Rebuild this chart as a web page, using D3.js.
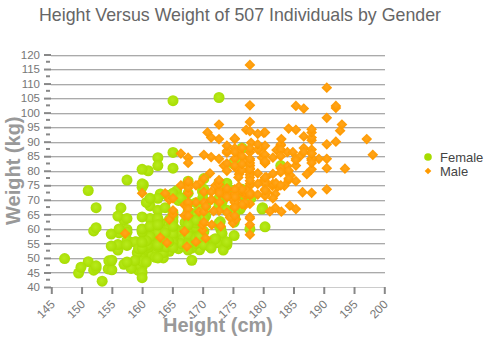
<!DOCTYPE html>
<html><head><meta charset="utf-8">
<script src="https://cdn.jsdelivr.net/npm/d3@7/dist/d3.min.js"></script>
<style>body{margin:0;background:#fff}svg{display:block;font-family:"Liberation Sans",Arial,sans-serif}</style>
</head><body><svg id="c" width="486" height="340"></svg>
<script>
const title = "Height Versus Weight of 507 Individuals by Gender";
const seriesNames = ["Female", "Male"];
const xTicks = [145,150,155,160,165,170,175,180,185,190,195,200];
const yTicks = [40,45,50,55,60,65,70,75,80,85,90,95,100,105,110,115,120];
const female = [[161.2,51.6],[167.5,59.0],[159.5,49.2],[157.0,63.0],[155.8,53.6],[170.0,59.0],[159.1,47.6],[166.0,69.8],[176.2,66.8],[160.2,75.2],[172.5,55.2],[170.9,54.2],[172.9,62.5],[153.4,42.0],[160.0,50.0],[147.2,49.8],[168.2,49.2],[175.0,73.2],[157.0,47.8],[167.6,68.8],[159.5,50.6],[175.0,82.5],[166.8,57.2],[176.5,87.8],[170.2,72.8],[174.0,54.5],[173.0,59.8],[179.9,67.3],[170.5,67.8],[160.0,47.0],[154.4,46.2],[162.0,55.0],[176.5,83.0],[160.0,54.4],[152.0,45.8],[162.1,53.6],[170.0,73.2],[160.2,52.1],[161.3,67.9],[166.4,56.6],[168.9,62.3],[163.8,58.5],[167.6,54.5],[160.0,50.2],[161.3,60.3],[167.6,58.3],[165.1,56.2],[160.0,50.2],[170.0,72.9],[157.5,59.8],[167.6,61.0],[160.7,69.1],[163.2,55.9],[152.4,46.5],[157.5,54.3],[168.3,54.8],[180.3,60.7],[165.5,60.0],[165.0,62.0],[164.5,60.3],[156.0,52.7],[160.0,74.3],[163.0,62.0],[165.7,73.1],[161.0,80.0],[162.0,54.7],[166.0,53.2],[174.0,75.7],[172.7,61.1],[167.6,55.7],[151.1,48.7],[164.5,52.3],[163.5,50.0],[152.0,59.3],[169.0,62.5],[164.0,55.7],[161.2,54.8],[155.0,45.9],[170.0,70.6],[176.2,67.2],[170.0,69.4],[162.5,58.2],[170.3,64.8],[164.1,71.6],[169.5,52.8],[163.2,59.8],[154.5,49.0],[159.8,50.0],[173.2,69.2],[170.0,55.9],[161.4,63.4],[169.0,58.2],[166.2,58.6],[159.4,45.7],[162.5,52.2],[159.0,48.6],[162.8,57.8],[159.0,55.6],[179.8,66.8],[162.9,59.4],[161.0,53.6],[151.1,73.2],[168.2,53.4],[168.9,69.0],[173.2,58.4],[171.8,56.2],[178.0,70.6],[164.3,59.8],[163.0,72.0],[168.5,65.2],[166.8,56.6],[172.7,105.2],[163.5,51.8],[169.4,63.4],[167.8,59.0],[159.5,47.6],[167.6,63.0],[161.2,55.2],[160.0,45.0],[163.2,54.0],[162.2,50.2],[161.3,60.2],[149.5,44.8],[157.5,58.8],[163.2,56.4],[172.7,62.0],[155.0,49.2],[156.5,67.2],[164.0,53.8],[160.9,54.4],[162.8,58.0],[167.0,59.8],[160.0,54.8],[160.0,43.2],[168.9,60.5],[158.2,46.4],[156.0,64.4],[160.0,48.8],[167.1,62.2],[158.0,55.5],[167.6,57.8],[156.0,54.6],[162.1,59.2],[173.4,52.7],[159.8,53.2],[170.5,64.5],[159.2,51.8],[157.5,56.0],[161.3,63.6],[162.6,63.2],[160.0,59.5],[168.9,56.8],[165.1,64.1],[162.6,50.0],[165.1,72.3],[166.4,55.0],[160.0,55.9],[152.4,60.4],[170.2,69.1],[162.6,84.5],[170.2,55.9],[158.8,55.5],[172.7,69.5],[167.6,76.4],[162.6,61.4],[167.6,65.9],[156.2,58.6],[175.2,66.8],[172.1,56.6],[162.6,58.6],[160.0,55.9],[165.1,59.1],[182.9,81.8],[166.4,70.7],[165.1,56.8],[177.8,60.0],[165.1,58.2],[175.3,72.7],[154.9,54.1],[158.8,49.1],[172.7,75.9],[168.9,55.0],[161.3,57.3],[167.6,55.0],[165.1,65.5],[175.3,65.5],[157.5,48.6],[163.8,58.6],[167.6,63.6],[165.1,55.2],[165.1,62.7],[168.9,56.6],[162.6,53.9],[164.5,63.2],[176.5,73.6],[168.9,62.0],[175.3,63.6],[159.4,53.2],[160.0,53.4],[170.2,55.0],[162.6,70.5],[167.6,54.5],[162.6,54.5],[160.7,55.9],[160.0,59.0],[157.5,63.6],[162.6,54.5],[152.4,47.3],[170.2,67.7],[165.1,80.9],[172.7,70.5],[165.1,60.9],[170.2,63.6],[170.2,54.5],[170.2,59.1],[161.3,70.5],[167.6,52.7],[167.6,62.7],[165.1,86.3],[162.6,66.4],[152.4,67.3],[168.9,63.0],[170.2,73.6],[175.2,62.3],[175.2,57.7],[160.0,55.4],[165.1,104.1],[174.0,55.5],[170.2,77.3],[160.0,80.5],[167.6,64.5],[167.6,72.3],[167.6,61.4],[154.9,58.2],[162.6,81.8],[175.3,63.6],[171.4,53.4],[157.5,54.5],[165.1,53.6],[160.0,60.0],[174.0,73.6],[162.6,61.4],[174.0,55.5],[162.6,63.6],[161.3,60.9],[156.2,60.0],[149.9,46.8],[169.5,57.3],[160.0,64.1],[175.3,63.6],[169.5,67.3],[160.0,75.5],[172.7,68.2],[162.6,61.4],[157.5,76.8],[176.5,71.8],[164.4,55.5],[160.7,48.6],[174.0,66.4],[163.8,67.3]];
const male = [[174.0,65.6],[175.3,71.8],[193.5,80.7],[186.5,72.6],[187.2,78.8],[181.5,74.8],[184.0,86.4],[184.5,78.4],[175.0,62.0],[184.0,81.6],[180.0,76.6],[177.8,83.6],[192.0,90.0],[176.0,74.6],[174.0,71.0],[184.0,79.6],[192.7,93.8],[171.5,70.0],[173.0,72.4],[176.0,85.9],[176.0,78.8],[180.5,77.8],[172.7,66.2],[176.0,86.4],[173.5,81.8],[178.0,89.6],[180.3,82.8],[180.3,76.4],[164.5,63.2],[173.0,60.9],[183.5,74.8],[175.5,70.0],[188.0,72.4],[189.2,84.1],[172.8,69.1],[170.0,59.5],[182.0,67.2],[170.0,61.3],[177.8,68.6],[184.2,80.1],[186.7,87.8],[171.4,84.7],[172.7,73.4],[175.3,72.1],[180.3,82.6],[182.9,88.7],[188.0,84.1],[177.2,94.1],[172.1,74.9],[167.0,59.1],[169.5,75.6],[174.0,86.2],[172.7,75.3],[182.2,87.1],[164.1,55.2],[163.0,57.0],[171.5,61.4],[184.2,76.8],[174.0,86.8],[174.0,72.2],[177.0,71.6],[186.0,84.8],[167.0,68.2],[171.8,66.1],[182.0,72.0],[167.0,64.6],[177.8,74.8],[164.5,70.0],[192.0,101.6],[175.5,63.2],[171.2,79.1],[181.6,78.9],[167.4,67.7],[181.1,66.0],[177.0,68.2],[174.5,63.9],[177.5,72.0],[170.5,56.8],[182.4,74.5],[197.1,90.9],[180.1,93.0],[175.5,80.9],[180.6,72.7],[184.4,68.0],[175.5,70.9],[180.6,72.5],[177.0,72.5],[177.1,83.4],[181.6,75.5],[176.5,73.0],[175.0,70.2],[174.0,73.4],[165.1,70.5],[177.0,68.9],[192.0,102.3],[176.5,68.4],[169.4,65.9],[182.1,75.7],[179.8,84.5],[175.3,87.7],[184.9,86.4],[177.3,73.2],[167.4,53.9],[178.1,72.0],[168.9,55.5],[157.2,58.4],[180.3,83.2],[170.2,72.7],[177.8,64.1],[172.7,72.3],[165.1,65.0],[186.7,86.4],[165.1,65.0],[174.0,88.6],[175.3,84.1],[185.4,66.8],[177.8,75.5],[180.3,93.2],[180.3,82.7],[177.8,58.0],[177.8,79.5],[177.8,78.6],[177.8,71.8],[177.8,116.4],[163.8,72.2],[188.0,83.6],[198.1,85.5],[175.3,90.9],[166.4,85.9],[190.5,89.1],[166.4,75.0],[177.8,77.7],[179.7,86.4],[172.7,90.9],[190.5,73.6],[185.4,76.4],[168.9,69.1],[167.6,84.5],[175.3,64.5],[170.2,69.1],[190.5,108.6],[177.8,86.4],[190.5,80.9],[177.8,87.7],[184.2,94.5],[176.5,80.2],[177.8,72.0],[180.3,71.4],[171.4,72.7],[172.7,84.1],[172.7,76.8],[177.8,63.6],[177.8,80.9],[182.9,80.9],[170.2,85.5],[167.6,68.6],[175.3,67.7],[165.1,66.4],[185.4,102.3],[181.6,70.5],[172.7,95.9],[190.5,84.1],[179.1,87.3],[175.3,71.8],[170.2,65.9],[193.0,95.9],[171.4,91.4],[177.8,81.8],[177.8,96.8],[167.6,69.1],[167.6,82.7],[180.3,75.5],[182.9,79.5],[176.5,73.6],[186.7,91.8],[188.0,84.1],[188.0,85.9],[177.8,81.8],[174.0,82.5],[177.8,80.5],[171.4,70.0],[185.4,81.8],[185.4,84.1],[188.0,90.5],[188.0,91.4],[182.9,89.1],[176.5,85.0],[175.3,69.1],[175.3,73.6],[188.0,80.5],[188.0,82.7],[175.3,86.4],[170.5,67.7],[179.1,92.7],[177.8,93.6],[175.3,70.9],[182.9,75.0],[170.8,93.2],[188.0,93.2],[180.3,77.7],[177.8,61.4],[185.4,94.1],[168.9,75.0],[185.4,83.6],[180.3,85.5],[174.0,73.9],[167.6,66.8],[182.9,87.3],[160.0,72.3],[180.3,88.6],[167.6,75.5],[186.7,101.4],[175.3,91.1],[175.3,67.3],[175.9,77.7],[175.3,81.8],[179.1,75.5],[181.6,84.5],[177.8,76.6],[182.9,85.0],[177.8,102.5],[184.2,77.3],[179.1,71.8],[176.5,87.9],[188.0,94.3],[174.0,70.9],[167.6,64.5],[170.2,77.3],[167.6,72.3],[188.0,87.3],[174.0,80.0],[176.5,82.3],[180.3,73.6],[167.6,74.1],[188.0,85.9],[180.3,73.2],[167.6,76.3],[183.0,65.9],[183.0,90.9],[179.1,89.1],[170.2,62.3],[177.8,82.7],[179.1,79.1],[190.5,98.2],[177.8,84.1],[180.3,83.2],[180.3,83.2]];

const svg = d3.select("#c");
const x = d3.scaleLinear().domain([145, 200]).range([51.3, 384.3]);
const y = d3.scaleLinear().domain([40, 120]).range([287, 54.5]);

const defs = svg.append("defs");
const gF = defs.append("radialGradient").attr("id","gF").attr("cx","45%").attr("cy","45%").attr("r","60%");
gF.append("stop").attr("offset","0%").attr("stop-color","#b8ea1c");
gF.append("stop").attr("offset","100%").attr("stop-color","#a6dc00");
const gM = defs.append("radialGradient").attr("id","gM").attr("cx","45%").attr("cy","45%").attr("r","60%");
gM.append("stop").attr("offset","0%").attr("stop-color","#ffa51c");
gM.append("stop").attr("offset","100%").attr("stop-color","#ff9a00");

// title
svg.append("text").attr("x", 240).attr("y", 21).attr("text-anchor","middle")
  .attr("font-size", 17.8).attr("fill","#666").text(title);

// gridlines
const grid = svg.append("g");
yTicks.forEach(t => {
  if (t === 40) return;
  grid.append("line").attr("x1", 51).attr("x2", 385).attr("y1", Math.round(y(t))+0.5).attr("y2", Math.round(y(t))+0.5).attr("stroke","#aaa");
  grid.append("line").attr("x1", 51).attr("x2", 385).attr("y1", Math.round(y(t))+1.5).attr("y2", Math.round(y(t))+1.5).attr("stroke","#e2e2e2");
});
// x axis baseline
svg.append("line").attr("x1", 51).attr("x2", 385).attr("y1", Math.round(y(40))+0.5).attr("y2", Math.round(y(40))+0.5).attr("stroke","#ccc");

// y axis ticks
const yAxis = d3.axisLeft(y).tickValues(yTicks).tickSize(7).tickPadding(4);
const yg = svg.append("g").attr("transform","translate(51,0)").call(yAxis);
yg.select(".domain").remove();
yg.selectAll(".tick line").attr("stroke","#888").attr("stroke-width",2);
yg.selectAll(".tick text").attr("fill","#777").attr("font-size",11.5).attr("font-family","Liberation Sans, Arial, sans-serif");
// minor ticks
const minor = d3.range(42.5, 120, 5);
svg.append("g").selectAll("line").data(minor).join("line")
  .attr("x1", 46).attr("x2", 50).attr("y1", d => y(d)).attr("y2", d => y(d))
  .attr("stroke","#888").attr("stroke-width",2);

// x axis
const xAxis = d3.axisBottom(x).tickValues(xTicks).tickSize(7).tickFormat(d3.format("d"));
const xg = svg.append("g").attr("transform", `translate(0,${y(40)})`).call(xAxis);
xg.select(".domain").remove();
xg.selectAll(".tick line").attr("stroke","#888").attr("stroke-width",2);
xg.selectAll(".tick text").attr("fill","#777").attr("font-size",12)
  .attr("font-family","Liberation Sans, Arial, sans-serif")
  .attr("text-anchor","end").attr("dy",null).attr("y",null)
  .attr("transform","translate(4,18) rotate(-45)");

// axis titles
svg.append("text").attr("x", 218).attr("y", 332).attr("text-anchor","middle")
  .attr("font-size", 20).attr("font-weight","bold").attr("fill","#999").text("Height (cm)");
svg.append("text").attr("transform", `translate(20,${(y(40)+y(120))/2}) rotate(-90)`).attr("text-anchor","middle")
  .attr("font-size", 20).attr("font-weight","bold").attr("fill","#999").text("Weight (kg)");

// points
svg.append("g").selectAll("circle").data(female).join("circle")
  .attr("cx", d => x(d[0])).attr("cy", d => y(d[1])).attr("r", 5.5).attr("fill","url(#gF)");
svg.append("g").selectAll("path").data(male).join("path")
  .attr("d", d3.symbol().type(d3.symbolSquare).size(58)())
  .attr("transform", d => `translate(${x(d[0])},${y(d[1])}) rotate(45)`)
  .attr("fill","url(#gM)");

// legend
const lg = svg.append("g");
lg.append("circle").attr("cx", 428).attr("cy", 157).attr("r", 3.8).attr("fill","#a6dc00");
lg.append("path").attr("d", d3.symbol().type(d3.symbolSquare).size(22)()).attr("transform","translate(428,171) rotate(45)").attr("fill","#ff9a00");
lg.append("text").attr("x", 440).attr("y", 161.5).attr("font-size", 13).attr("fill","#444").text(seriesNames[0]);
lg.append("text").attr("x", 440).attr("y", 175.5).attr("font-size", 13).attr("fill","#444").text(seriesNames[1]);
</script></body></html>
